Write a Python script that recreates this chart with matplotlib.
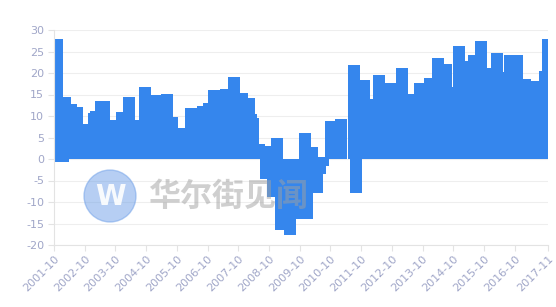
import numpy as np
import pandas as pd
import matplotlib
matplotlib.use("Agg")
import matplotlib.pyplot as plt
import matplotlib.dates as mdates
from matplotlib.patches import Circle

dates = [
    "2001-10-18", "2001-11-09", "2002-01-10", "2002-02-10", "2002-04-16", "2002-07-04",
    "2002-10-10", "2003-01-16", "2003-02-13", "2003-04-12", "2003-05-17", "2003-09-02",
    "2003-12-18", "2004-03-12", "2004-06-14", "2004-09-22", "2005-02-05", "2005-06-11",
    "2005-08-08", "2005-11-28", "2006-03-17", "2006-08-04", "2006-10-21", "2006-12-20",
    "2007-05-07", "2007-08-09", "2007-11-18", "2008-02-06", "2008-03-01", "2008-03-29",
    "2008-06-04", "2008-08-26", "2008-09-19", "2008-11-14", "2009-01-02", "2009-02-21",
    "2009-06-07", "2009-09-11", "2009-12-08", "2009-12-21", "2010-02-28", "2010-04-27",
    "2010-05-29", "2010-06-05", "2010-07-07", "2010-10-08", "2011-02-05", "2011-07-05",
    "2011-08-02", "2011-11-04", "2012-01-26", "2012-05-02", "2012-09-19", "2013-02-02",
    "2013-05-15", "2013-09-04", "2013-12-28", "2014-03-29", "2014-07-02", "2014-09-16",
    "2014-12-06", "2015-03-07", "2015-06-07", "2015-08-27", "2015-11-29", "2016-03-01",
    "2016-05-19", "2016-08-08", "2016-10-28", "2017-02-01", "2017-05-29", "2017-10-01",
    "2017-11-04",
]
values = [
    -0.6, 27.9, -0.6, 14.5, 12.7, 12.1,
    8.25, 10.6, 11.1, 13.4, 13.4, 9.0,
    11.0, 14.5, 9.0, 16.8, 14.85, 15.1,
    9.8, 7.2, 11.75, 12.4, 13.1, 16.0,
    16.2, 19.1, 15.25, 14.3, 10.4, 9.6,
    3.4, -4.6, 2.95, -8.8, 4.9, -16.4,
    -17.6, -13.9, 6.0, -13.9, 2.9, -7.9,
    0.5, -3.4, -1.6, 8.9, 9.35, 21.8,
    -7.9, 18.3, 14.0, 19.5, 17.6, 21.1,
    15.2, 17.6, 18.8, 23.6, 22.0, 16.8,
    26.3, 22.8, 24.3, 27.4, 21.1, 24.55,
    20.3, 24.3, 24.3, 18.6, 18.1, 20.4,
    27.9,
]

tick_dates = [f"{y}-10-01" for y in range(2001, 2017)] + ["2017-11-01"]
tick_labels = [f"{y}-10" for y in range(2001, 2017)] + ["2017-11"]
x_start, x_end = "2001-10-01", "2017-11-01"
y_ticks = list(range(-20, 31, 5))

bar_color = "#3586ed"
label_color = "#a0a6c8"
grid_color = "#eeeeee"

x = mdates.date2num(pd.to_datetime(dates))
xt = mdates.date2num(pd.to_datetime(tick_dates))

fig = plt.figure(figsize=(5.56, 3.07), dpi=100)
ax = fig.add_axes([54 / 556, 1 - 245 / 307, 494 / 556, 215 / 307])

ax.bar(x, values, width=143, color=bar_color, linewidth=0, zorder=2)

ax.set_xlim(mdates.date2num(pd.Timestamp(x_start)), mdates.date2num(pd.Timestamp(x_end)))
ax.set_ylim(-20, 30)
ax.set_yticks(y_ticks)
ax.set_yticklabels([str(v) for v in y_ticks])
ax.set_xticks(xt)
ax.set_xticklabels(tick_labels, rotation=45, ha="right", rotation_mode="anchor")

ax.grid(axis="y", color=grid_color, linewidth=0.8, zorder=0)
ax.set_axisbelow(True)
for side in ["top", "right"]:
    ax.spines[side].set_visible(False)
for side in ["left", "bottom"]:
    ax.spines[side].set_color("#e3e3e3")
    ax.spines[side].set_linewidth(0.8)
ax.tick_params(axis="both", colors="#e3e3e3", labelcolor=label_color, labelsize=8, length=4, width=0.8)
ax.tick_params(axis="y", pad=3)
ax.tick_params(axis="x", pad=2)

# watermark (positions in inches from the lower left corner)
circ = Circle((1.10, 3.07 - 1.96), 0.26, transform=fig.dpi_scale_trans,
              color="#6e9fe8", alpha=0.5, zorder=10)
fig.patches.append(circ)
fig.text(110 / 556, 1 - 197 / 307, "W", color="white", fontsize=20, fontweight="bold",
         ha="center", va="center", alpha=0.9, zorder=11)
fig.text(148 / 556, 1 - 197 / 307, "华尔街见闻", color="#a0a0a0", alpha=0.5,
         fontsize=23, fontweight="bold", family=["Noto Sans CJK SC", "DejaVu Sans"],
         ha="left", va="center", zorder=11)

fig.savefig("out.png", dpi=100)
